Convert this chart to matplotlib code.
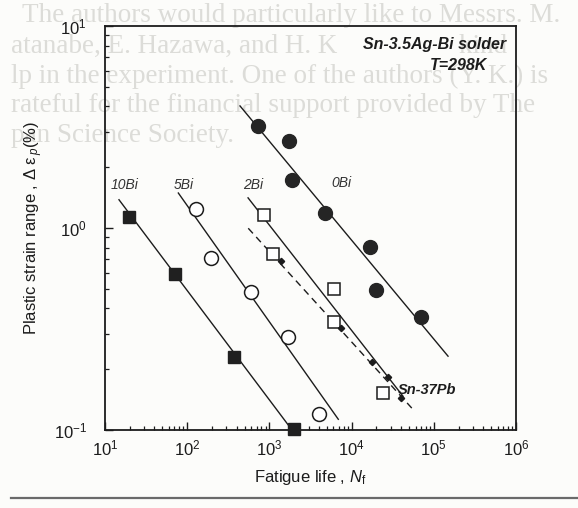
import matplotlib
matplotlib.use("Agg")
import matplotlib.pyplot as plt
from matplotlib.lines import Line2D
from matplotlib.ticker import LogLocator, LogFormatterSciNotation, NullFormatter

plt.rcParams["font.family"] = ["Liberation Sans", "DejaVu Sans"]
plt.rcParams["mathtext.fontset"] = "custom"
plt.rcParams["mathtext.rm"] = "Liberation Sans"
plt.rcParams["mathtext.it"] = "Liberation Sans:italic"
plt.rcParams["mathtext.bf"] = "Liberation Sans:bold"

# Fatigue life N_f (cycles) and plastic strain range (%) per alloy
n_0bi = [733, 1746, 1900, 4740, 16700, 19800, 69800]
e_0bi = [3.20, 2.71, 1.73, 1.18, 0.807, 0.493, 0.364]

n_2bi = [867, 1114, 6110, 6170, 24300]
e_2bi = [1.16, 0.743, 0.499, 0.343, 0.152]

n_5bi = [128, 193, 597, 1683, 4050]
e_5bi = [1.24, 0.713, 0.481, 0.290, 0.120]

n_10bi = [19.6, 71.1, 371, 2010]
e_10bi = [1.13, 0.591, 0.229, 0.101]

n_snpb = [1371, 7430, 17870, 27500, 39900]
e_snpb = [0.689, 0.319, 0.218, 0.182, 0.1445]

# Coffin-Manson fit lines: (N start, N end), (strain start, strain end)
fit_0bi = ([439, 149000], [4.02, 0.232])
fit_2bi = ([550, 42200], [1.41, 0.147])
fit_5bi = ([78, 6890], [1.49, 0.113])
fit_10bi = ([14.8, 1884], [1.38, 0.10])
fit_snpb = ([553, 54300], [0.997, 0.128])

series_labels = ["10Bi", "5Bi", "2Bi", "0Bi"]
label_n = [17.5, 91.4, 631, 7430]
label_e = [1.63, 1.63, 1.63, 1.67]

ink = "#1c1c1c"
bg = "#fcfcfa"

fig = plt.figure(figsize=(5.78, 5.08), dpi=100, facecolor=bg)

# faint text showing through from the reverse side of the page
ghost = [
    "The authors would particularly like to Messrs. M.",
    "atanabe, E. Hazawa, and H. K                  kind",
    "lp in the experiment. One of the authors (Y. K.) is",
    "rateful for the financial support provided by The",
    "pan Science Society.",
]
ghost_x = [22, 11, 11, 11, 11]
ghost_y = [15, 46, 76, 105, 135]
for t, gx, gy in zip(ghost, ghost_x, ghost_y):
    fig.text(gx / 578, 1 - gy / 508, t, family="Liberation Serif", fontsize=19.5,
             color="#dcdcd8", va="center", ha="left", zorder=-5)

# rule line near the bottom of the page
fig.add_artist(Line2D([11 / 578, 1.0], [1 - 498 / 508] * 2, color="#6a6a6a", lw=1.6))

ax = fig.add_axes([105 / 578, 78 / 508, 411 / 578, 404 / 508])
ax.patch.set_alpha(0)
ax.set_xscale("log")
ax.set_yscale("log")
ax.set_xlim(10, 1e6)
ax.set_ylim(0.1, 10)

lw = 1.0
for fit in (fit_0bi, fit_2bi, fit_5bi, fit_10bi):
    ax.plot(fit[0], fit[1], color=ink, lw=lw, zorder=2)
ax.plot(fit_snpb[0], fit_snpb[1], color=ink, lw=lw, dashes=(5, 3.5), zorder=2)

ax.plot(n_0bi, e_0bi, "o", ms=10, mfc="#252525", mec="#252525", zorder=3)
ax.plot(n_2bi, e_2bi, "s", ms=9, mfc="white", mec=ink, mew=1.1, zorder=3)
ax.plot(n_5bi, e_5bi, "o", ms=10, mfc="white", mec=ink, mew=1.1, zorder=3)
ax.plot(n_10bi, e_10bi, "s", ms=9, mfc="#202020", mec="#202020", zorder=3, clip_on=False)
ax.plot(n_snpb, e_snpb, "D", ms=3.2, mfc=ink, mec=ink, zorder=4)

for lab, x, y in zip(series_labels, label_n, label_e):
    ax.text(x, y, lab, fontsize=10, style="italic", color="#333333",
            ha="center", va="center")
ax.text(36700, 0.158, "Sn-37Pb", fontsize=10.5, style="italic", weight="bold",
        color=ink, ha="left", va="center")

ax.text(0.976, 0.953, "Sn-3.5Ag-Bi solder", transform=ax.transAxes, fontsize=11.5,
        style="italic", weight="bold", color=ink, ha="right", va="center")
ax.text(0.929, 0.903, "T=298K", transform=ax.transAxes, fontsize=11.5,
        style="italic", weight="bold", color=ink, ha="right", va="center")

for s in ax.spines.values():
    s.set_linewidth(1.3)
    s.set_color(ink)

ax.xaxis.set_major_locator(LogLocator(base=10, numticks=10))
ax.xaxis.set_minor_locator(LogLocator(base=10, subs=range(2, 10), numticks=20))
ax.yaxis.set_major_locator(LogLocator(base=10, numticks=10))
ax.yaxis.set_minor_locator(LogLocator(base=10, subs=range(2, 10), numticks=20))
ax.xaxis.set_major_formatter(LogFormatterSciNotation())
ax.yaxis.set_major_formatter(LogFormatterSciNotation())
ax.xaxis.set_minor_formatter(NullFormatter())
ax.yaxis.set_minor_formatter(NullFormatter())

ax.tick_params(which="both", direction="in", top=False, right=False, colors=ink)
ax.tick_params(which="major", length=6, width=1.0, labelsize=12)
ax.tick_params(which="minor", length=3, width=0.9)
ax.tick_params(axis="x", which="major", pad=6)
ax.tick_params(axis="y", which="major", pad=13)

ax.set_xlabel(r"Fatigue life , $N_{\mathrm{f}}$", fontsize=12, color=ink, labelpad=7)
ax.set_ylabel(r"Plastic strain range , Δ ε$_{\,p}$(%)", fontsize=12, color=ink, labelpad=6)

fig.savefig("out.png", dpi=100, facecolor=bg)
